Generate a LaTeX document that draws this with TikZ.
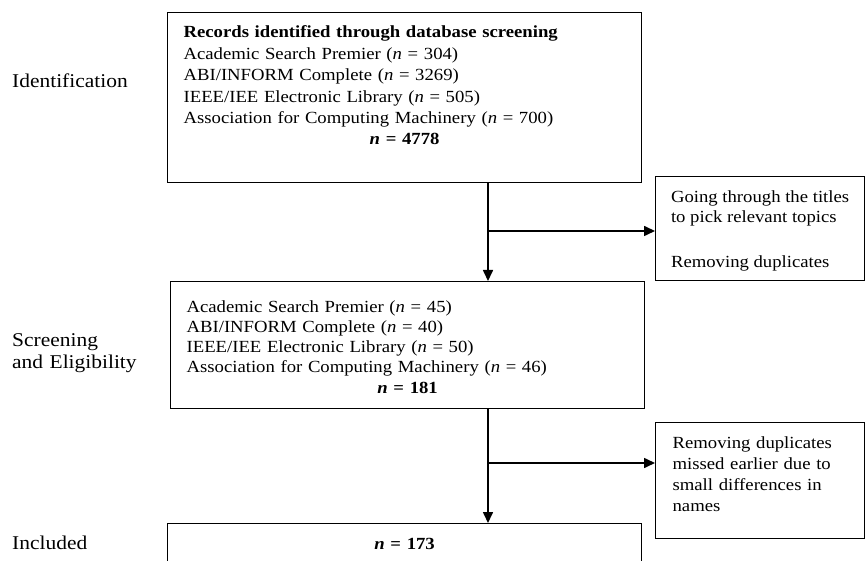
\documentclass[tikz,border=0pt]{standalone}
\usepackage{fontspec}
\setmainfont{Liberation Serif}[FakeStretch=1.1]
\usetikzlibrary{arrows.meta}

\begin{document}
\begin{tikzpicture}[x=1pt,y=-1pt,
RecordBox/.style={draw,line width=1.2pt,anchor=north west,align=left,inner xsep=16pt,inner ysep=0pt,text width=442pt},
FilterBox/.style={draw,line width=1.2pt,anchor=north west,align=left,inner xsep=8pt,inner ysep=0pt,minimum width=209pt},
StageText/.style={anchor=base west,align=left,inner sep=0pt,text width=150pt,font=\fontsize{19.5}{21}\selectfont},
FlowArrow/.style={-{Triangle[length=11pt,width=10pt]},line width=1.6pt}]

\useasboundingbox (0,0) rectangle (865,561);


% stages
\node[StageText] (StageA) at (12,87.7) {Identification};
\node[StageText] (StageB) at (12,347) {Screening\\and Eligibility};
\node[StageText] (StageC) at (12,549) {Included};


% records
\node[RecordBox,font=\fontsize{17}{21.4}\selectfont,text height=25.3pt,text depth=144.7pt] (RecordsA) at (167,12) {\textbf{Records identified through database screening}\\
Academic Search Premier (\textit{n} = 304)\\
ABI/INFORM Complete (\textit{n} = 3269)\\
IEEE/IEE Electronic Library (\textit{n} = 505)\\
Association for Computing Machinery (\textit{n} = 700)\\
\makebox[\linewidth]{\textbf{\textit{n} = 4778}}};

\node[RecordBox,font=\fontsize{17}{20}\selectfont,text height=30.7pt,text depth=96.3pt] (RecordsB) at (170,281) {Academic Search Premier (\textit{n} = 45)\\
ABI/INFORM Complete (\textit{n} = 40)\\
IEEE/IEE Electronic Library (\textit{n} = 50)\\
Association for Computing Machinery (\textit{n} = 46)\\[1.3pt]
\makebox[\linewidth]{\textbf{\textit{n} = 181}}};

\node[RecordBox,align=center,font=\fontsize{17}{21}\selectfont,text height=26.3pt,text depth=40pt] (RecordsC) at (167,523) {\textbf{\textit{n} = 173}};


% filters (baseline is the last line here)
\node[FilterBox,font=\fontsize{17}{20}\selectfont,text height=90.7pt,text depth=13.3pt] (FilterA) at (655,176) {Going through the titles\\to pick relevant topics\\[24.4pt]Removing duplicates};

\node[FilterBox,text width=175pt,inner xsep=17pt,font=\fontsize{17}{21}\selectfont,text height=25.7pt,text depth=90.3pt] (FilterB) at (655,422) {Removing duplicates\\missed earlier due to\\small differences in\\names};


\coordinate (SplitA) at (488,231);
\coordinate (SplitB) at (488,463);

\draw[FlowArrow] (SplitA |- RecordsA.south) -- (SplitA |- RecordsB.north);
\draw[FlowArrow] (SplitA) -- (SplitA -| FilterA.west);

\draw[FlowArrow] (SplitB |- RecordsB.south) -- (SplitB |- RecordsC.north);
\draw[FlowArrow] (SplitB) -- (SplitB -| FilterB.west);

\end{tikzpicture}
\end{document}
